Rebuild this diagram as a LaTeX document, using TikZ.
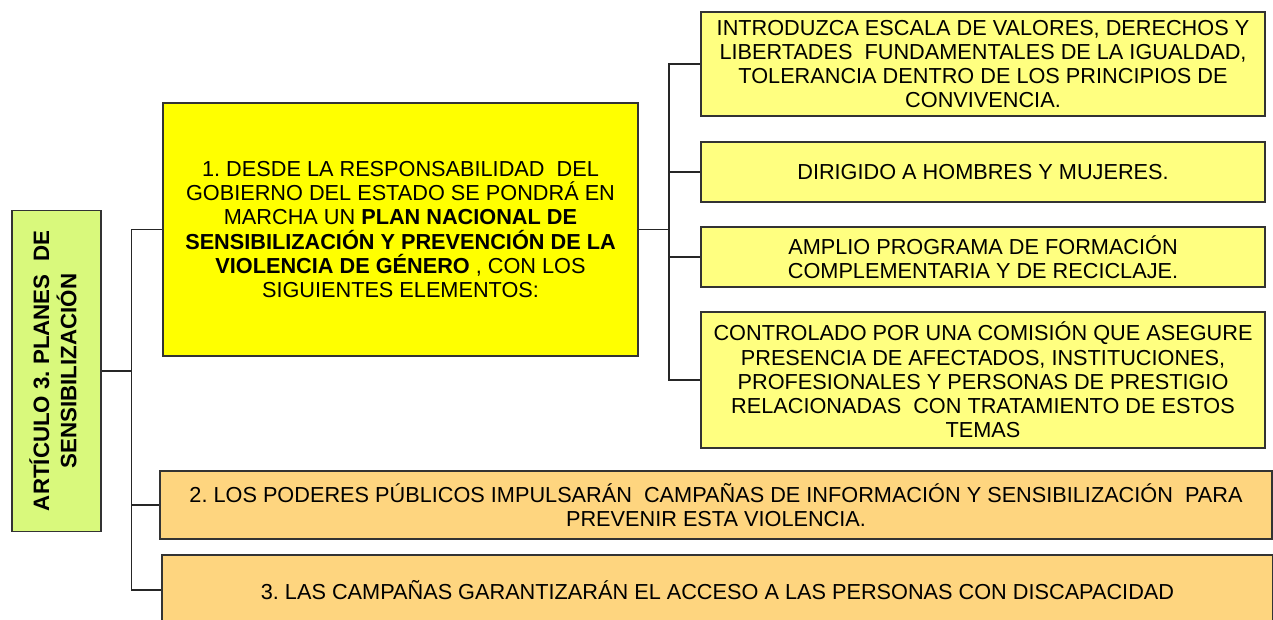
\documentclass[tikz,border=0pt]{standalone}
\usepackage{fontspec}
\setmainfont{Liberation Sans}
\frenchspacing
\begin{document}
\begin{tikzpicture}[x=1pt,y=-1pt,
  box/.style={draw=black!80,line width=1.2pt,inner sep=0pt,align=center,
    font=\fontsize{21.7}{24.3}\selectfont},
  conn/.style={draw=black!85,line width=1.3pt}]
\useasboundingbox (0,0) rectangle (1273,619);
\definecolor{cgreen}{HTML}{D9F97C}
\definecolor{cyel}{HTML}{FFFF00}
\definecolor{clyel}{HTML}{FFFF80}
\definecolor{corange}{HTML}{FED57F}
\node[box,fill=cgreen,minimum width=89pt,minimum height=321pt] (art) at (56.5,371)
  {\rotatebox{90}{\fontsize{22.3}{24.3}\selectfont\begin{tabular}{@{}c@{}}\bfseries ART\'ICULO 3. PLANES\ \ DE\\\bfseries SENSIBILIZACI\'ON\end{tabular}}};
\node[box,fill=cyel,minimum width=475pt,minimum height=253pt] (p1) at (400.5,229.5)
  {1. DESDE LA RESPONSABILIDAD\ \ DEL\\GOBIERNO DEL ESTADO SE PONDR\'A EN\\MARCHA UN \textbf{PLAN NACIONAL DE}\\\textbf{SENSIBILIZACI\'ON Y PREVENCI\'ON DE LA}\\\textbf{VIOLENCIA DE G\'ENERO} , CON LOS\\SIGUIENTES ELEMENTOS:};
\node[box,fill=clyel,minimum width=564pt,minimum height=104pt] (a) at (983,64)
  {INTRODUZCA ESCALA DE VALORES, DERECHOS Y\\LIBERTADES\ \ FUNDAMENTALES DE LA IGUALDAD,\\TOLERANCIA DENTRO DE LOS PRINCIPIOS DE\\CONVIVENCIA.};
\node[box,fill=clyel,minimum width=564pt,minimum height=60pt] (b) at (983,172)
  {DIRIGIDO A HOMBRES Y MUJERES.};
\node[box,fill=clyel,minimum width=564pt,minimum height=60pt] (c) at (983,257)
  {AMPLIO PROGRAMA DE FORMACI\'ON\\COMPLEMENTARIA Y DE RECICLAJE.};
\node[box,fill=clyel,minimum width=564pt,minimum height=136pt] (d) at (983,380)
  {CONTROLADO POR UNA COMISI\'ON QUE ASEGURE\\PRESENCIA DE AFECTADOS, INSTITUCIONES,\\PROFESIONALES Y PERSONAS DE PRESTIGIO\\RELACIONADAS\ \ CON TRATAMIENTO DE ESTOS\\TEMAS};
\node[box,fill=corange,minimum width=1112pt,minimum height=68pt] (p2) at (716,505)
  {2. LOS PODERES P\'UBLICOS IMPULSAR\'AN\ \ CAMPA\~NAS DE INFORMACI\'ON Y SENSIBILIZACI\'ON\ \ PARA\\PREVENIR ESTA VIOLENCIA.};
\node[box,fill=corange,minimum width=1111pt,minimum height=70pt] (p3) at (717.5,590)
  {3. LAS CAMPA\~NAS GARANTIZAR\'AN EL ACCESO A LAS PERSONAS CON DISCAPACIDAD};
\coordinate (t1) at (131.5,371);
\coordinate (t2) at (669,229.5);
\draw[conn] (art.east) -- (t1);
\draw[conn] (t1) |- (p1.west);
\draw[conn] (t1) |- (p2.west);
\draw[conn] (t1) |- (p3.west);
\draw[conn] (p1.east) -- (t2);
\draw[conn] (t2) |- (a.west);
\draw[conn] (t2) |- (b.west);
\draw[conn] (t2) |- (c.west);
\draw[conn] (t2) |- (d.west);
\end{tikzpicture}
\end{document}
